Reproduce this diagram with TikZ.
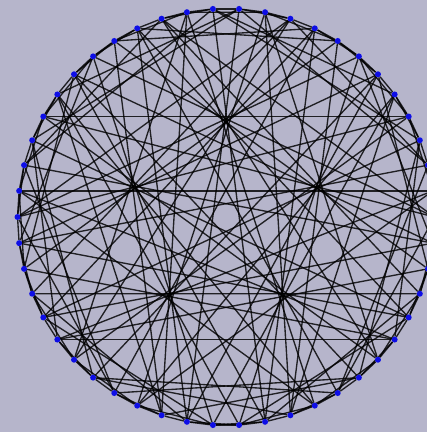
\documentclass[tikz,border=0pt]{standalone}
\usepackage{tikz}
\usetikzlibrary{backgrounds}
\definecolor{canvas}{RGB}{182,181,203}
\definecolor{dotblue}{RGB}{14,14,230}

\begin{document}
\begin{tikzpicture}[
  x=1pt, y=1pt,
  vertex/.style={circle, fill=dotblue, inner sep=0pt, minimum size=6pt},
  edge/.style={black, line width=1.35pt, opacity=0.82}
]
\useasboundingbox (0,0) rectangle (427,432);

\begin{scope}[shift={(226,215)}]
% Vertices on the circle
\foreach \k in {0,...,49}
  \node[vertex] (v\k) at (\k*7.2:208.5) {};

\begin{pgfonlayer}{background}
\fill[canvas] (-226,-215) rectangle (201,217);

% Rim
\foreach \k in {0,...,49} {
  \pgfmathtruncatemacro{\n}{mod(\k+1,50)}
  \draw[edge] (v\k) -- (v\n);
}

% Chords that are their own mirror image: five turns
\foreach \a/\b in {1/24, 4/21, 28/47, 30/45, 11/14}
  \foreach \r in {0,...,4} {
    \pgfmathtruncatemacro{\p}{mod(\a+10*\r,50)}
    \pgfmathtruncatemacro{\q}{mod(\b+10*\r,50)}
    \draw[edge] (v\p) -- (v\q);
  }

% Other chords: five turns and their mirror images
\foreach \a/\b in {0/18, 16/46, 10/31, 12/36, 2/12, 0/2, 5/13, 4/7, 6/8, 9/17}
  \foreach \r in {0,...,4} {
    \pgfmathtruncatemacro{\p}{mod(\a+10*\r,50)}
    \pgfmathtruncatemacro{\q}{mod(\b+10*\r,50)}
    \pgfmathtruncatemacro{\pm}{mod(75-\a+10*\r,50)}
    \pgfmathtruncatemacro{\qm}{mod(75-\b+10*\r,50)}
    \draw[edge] (v\p) -- (v\q);
    \draw[edge] (v\pm) -- (v\qm);
  }
\end{pgfonlayer}
\end{scope}

\end{tikzpicture}
\end{document}
